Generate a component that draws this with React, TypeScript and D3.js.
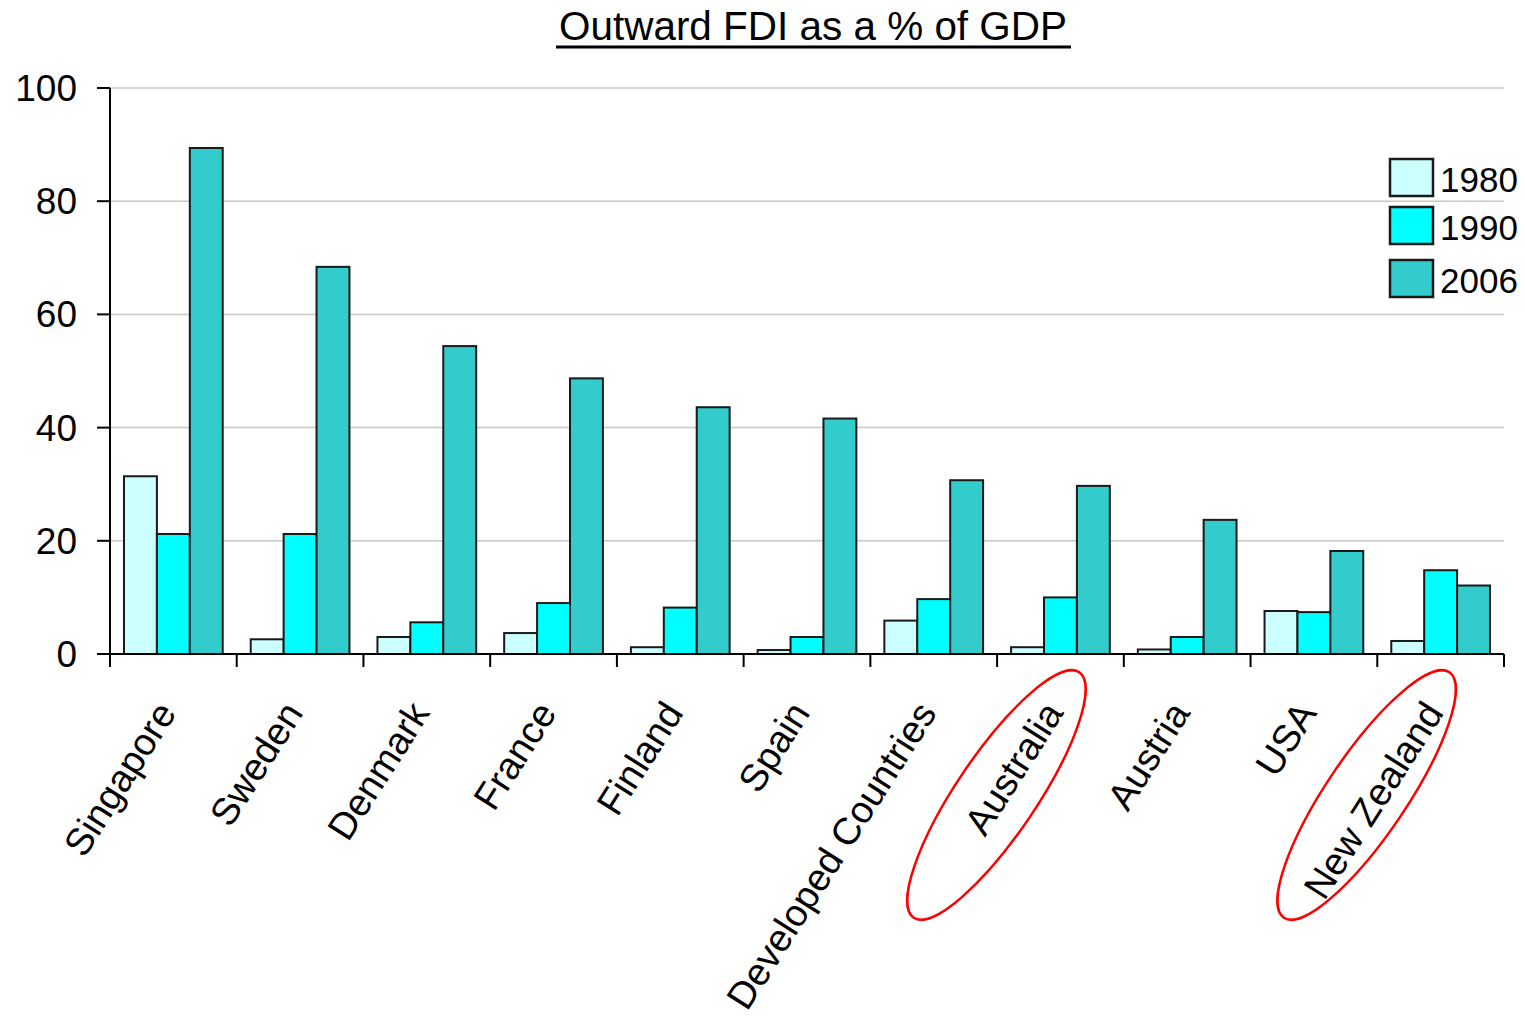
import React from "react";
import * as d3 from "d3";

const categories = [
  "Singapore",
  "Sweden",
  "Denmark",
  "France",
  "Finland",
  "Spain",
  "Developed Countries",
  "Australia",
  "Austria",
  "USA",
  "New Zealand",
];
const seriesNames = ["1980", "1990", "2006"];
const values1980 = [31.4, 2.6, 3.0, 3.7, 1.2, 0.7, 5.9, 1.2, 0.8, 7.6, 2.3];
const values1990 = [21.2, 21.2, 5.6, 9.0, 8.2, 3.0, 9.7, 10.0, 3.0, 7.4, 14.8];
const values2006 = [89.4, 68.4, 54.4, 48.7, 43.6, 41.6, 30.7, 29.7, 23.7, 18.2, 12.1];
const yTicks = [0, 20, 40, 60, 80, 100];
const circled = ["Australia", "New Zealand"];
const colors = ["#CCFFFF", "#00FFFF", "#33CCCC"];

const W = 1525;
const H = 1018;
const FONT = "'Liberation Sans', Arial, sans-serif";

export default function App() {
  const left = 110;
  const right = 1504;
  const top = 88;
  const bottom = 654;
  const seriesValues = [values1980, values1990, values2006];

  const x0 = d3.scaleBand<string>().domain(categories).range([left, right]).padding(0);
  const step = x0.step();
  const x1 = d3.scaleBand<string>().domain(seriesNames).range([14, step - 14]).padding(0);
  const y = d3.scaleLinear().domain([0, 100]).range([bottom, top]);

  const boundaries = d3.range(categories.length + 1).map((i) => left + i * step);
  const ellipseShift = (i: number) => (i === 0 ? -64 : -74);

  return (
    <svg
      width={W}
      height={H}
      style={{ position: "absolute", left: 0, top: 0, background: "#fff" }}
      fontFamily={FONT}
    >
      {/* title */}
      <text x={813} y={40} fontSize={40} textAnchor="middle" fill="#000" textLength={508} lengthAdjust="spacingAndGlyphs">
        Outward FDI as a % of GDP
      </text>
      <line x1={556} x2={1071} y1={47} y2={47} stroke="#000" strokeWidth={3} />

      {/* gridlines */}
      {yTicks
        .filter((t) => t > 0)
        .map((t) => (
          <line key={t} x1={left} x2={right} y1={y(t)} y2={y(t)} stroke="#C8C8C8" strokeWidth={1.5} />
        ))}

      {/* bars */}
      {categories.map((c, i) => (
        <g key={c} transform={`translate(${x0(c)},0)`}>
          {seriesNames.map((s, j) => {
            const v = seriesValues[j][i];
            return (
              <rect
                key={s}
                x={x1(s)}
                y={y(v)}
                width={x1.bandwidth()}
                height={bottom - y(v)}
                fill={colors[j]}
                stroke="#1a1a1a"
                strokeWidth={2}
              />
            );
          })}
        </g>
      ))}

      {/* y axis */}
      <line x1={left} x2={left} y1={top} y2={bottom} stroke="#000" strokeWidth={2} />
      {yTicks.map((t) => (
        <g key={t}>
          <line x1={left - 13} x2={left} y1={y(t)} y2={y(t)} stroke="#000" strokeWidth={2} />
          <text x={77} y={y(t) + 13} fontSize={37} textAnchor="end" fill="#000">
            {t}
          </text>
        </g>
      ))}

      {/* x axis */}
      <line x1={left} x2={right} y1={bottom} y2={bottom} stroke="#000" strokeWidth={2} />
      {boundaries.map((b, i) => (
        <line key={i} x1={b} x2={b} y1={bottom} y2={bottom + 13} stroke="#000" strokeWidth={2} />
      ))}
      {categories.map((c) => {
        const cx = (x0(c) as number) + step / 2;
        return (
          <text
            key={c}
            transform={`translate(${cx + 4},${713}) rotate(-57.5)`}
            fontSize={38}
            textAnchor="end"
            fill="#000"
          >
            {c}
          </text>
        );
      })}

      {/* red annotation ellipses */}
      {circled.map((c, i) => {
        const cx = (x0(c) as number) + step / 2;
        return (
          <ellipse
            key={c}
            transform={`translate(${cx + ellipseShift(i)},${795}) rotate(-56)`}
            rx={148}
            ry={40}
            fill="none"
            stroke="#FF0000"
            strokeWidth={2.5}
          />
        );
      })}

      {/* legend */}
      {seriesNames.map((s, j) => {
        const ly = [159, 207, 260][j];
        return (
          <g key={s}>
            <rect x={1390} y={ly} width={43} height={37} fill={colors[j]} stroke="#1a1a1a" strokeWidth={2.5} />
            <text x={1440} y={ly + 33} fontSize={35} fill="#000">
              {s}
            </text>
          </g>
        );
      })}
    </svg>
  );
}
